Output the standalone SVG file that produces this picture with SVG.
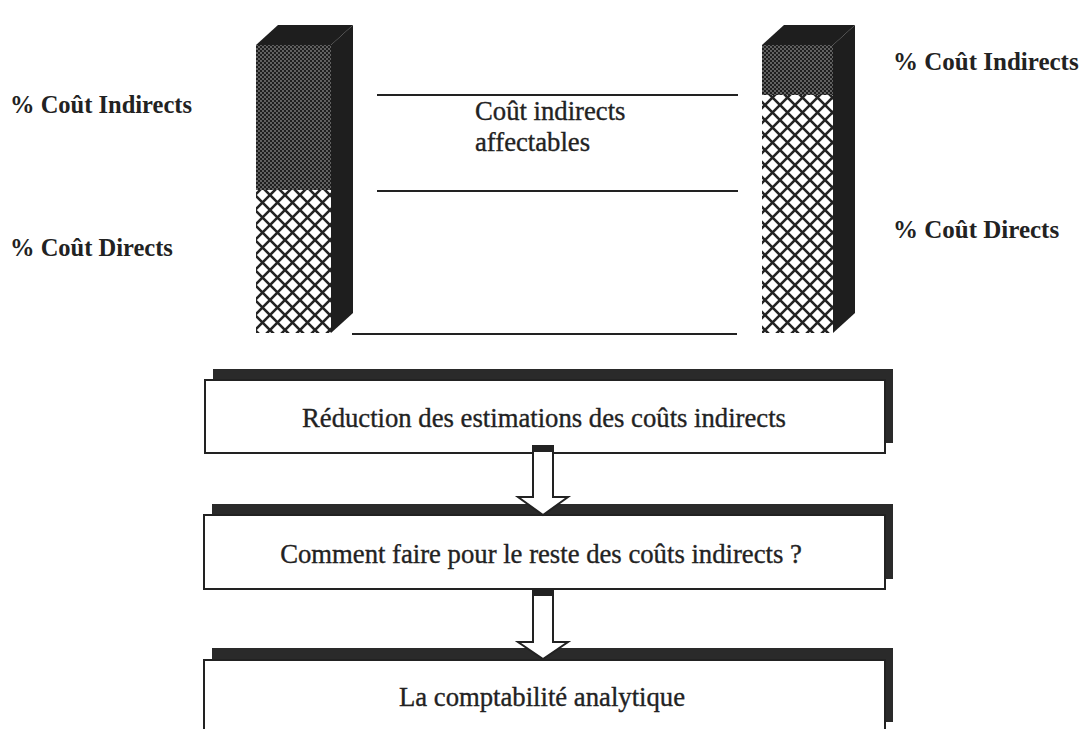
<svg xmlns="http://www.w3.org/2000/svg" width="1087" height="729" viewBox="0 0 1087 729">
<style>
.lbl{font-family:"Liberation Serif","Times New Roman",serif;font-weight:bold;font-size:24.5px;fill:#222}
.txt{font-family:"Liberation Serif","Times New Roman",serif;font-size:26.7px;fill:#222;stroke:#222;stroke-width:0.35}
.dark{fill:#1e1e1e}
.rule{stroke:#222;stroke-width:2}
.box{fill:#fff;stroke:#222;stroke-width:2}
.shadow{fill:#2a2a2a}
.arrow{fill:#fff;stroke:#222;stroke-width:2;stroke-linejoin:miter}
</style>
<defs>
<pattern id="dense" patternUnits="userSpaceOnUse" width="4" height="4">
<rect width="4" height="4" fill="#1e1e1e"/>
<circle cx="1" cy="1" r="0.65" fill="#ddd"/>
<circle cx="3" cy="3" r="0.65" fill="#ddd"/>
</pattern>
<pattern id="hatch" patternUnits="userSpaceOnUse" width="15" height="15">
<rect width="15" height="15" fill="#fff"/>
<path d="M-2,-2 L17,17 M17,-2 L-2,17" stroke="#222" stroke-width="2.6"/>
</pattern>
</defs>
<rect width="1087" height="729" fill="#fff"/>

<g id="bar-left">
<polygon class="dark" points="256,45 278,25 353,25 331,45"/>
<polygon class="dark" points="331,45 353,25 353,313 331,333"/>
<rect x="256" y="45" width="75" height="145" fill="url(#dense)"/>
<rect x="256" y="190" width="75" height="143" fill="url(#hatch)"/>
</g>

<g id="bar-right">
<polygon class="dark" points="762,45 784,25 855,25 833,45"/>
<polygon class="dark" points="833,45 855,25 855,313 833,333"/>
<rect x="762" y="45" width="71" height="50" fill="url(#dense)"/>
<rect x="762" y="95" width="71" height="238" fill="url(#hatch)"/>
</g>

<g id="guides">
<line class="rule" x1="377" y1="95" x2="738" y2="95"/>
<line class="rule" x1="377" y1="191" x2="738" y2="191"/>
<line class="rule" x1="352" y1="334" x2="737" y2="334"/>
</g>

<g id="labels">
<text class="lbl" x="10" y="113">% Coût Indirects</text>
<text class="lbl" x="10" y="256">% Coût Directs</text>
<text class="lbl" x="893" y="70" style="font-size:25px">% Coût Indirects</text>
<text class="lbl" x="893" y="238" style="font-size:25px">% Coût Directs</text>
<text class="txt" x="475" y="120">Coût indirects</text>
<text class="txt" x="475" y="151">affectables</text>
</g>

<g id="box-reduction">
<rect class="shadow" x="213" y="369" width="680" height="74"/>
<rect class="box" x="205" y="380" width="680" height="73"/>
<text class="txt" x="544" y="427" text-anchor="middle">Réduction des estimations des coûts indirects</text>
</g>

<g id="box-comment">
<rect class="shadow" x="212" y="504" width="681" height="75"/>
<rect class="box" x="204" y="515" width="681" height="74"/>
<text class="txt" x="541" y="563" text-anchor="middle">Comment faire pour le reste des coûts indirects ?</text>
</g>

<g id="box-compta">
<rect class="shadow" x="212" y="648" width="681" height="74"/>
<rect class="box" x="204" y="660" width="681" height="80"/>
<text class="txt" x="542" y="706" text-anchor="middle">La comptabilité analytique</text>
</g>

<g id="connectors">
<polygon class="arrow" points="533,446 553,446 553,497 568,497 543,515 518,497 533,497"/>
<rect x="533" y="446" width="20" height="6" fill="#222"/>
<polygon class="arrow" points="533,590 553,590 553,642 568,642 543,659 518,642 533,642"/>
<rect x="533" y="590" width="20" height="6" fill="#222"/>
</g>
</svg>
